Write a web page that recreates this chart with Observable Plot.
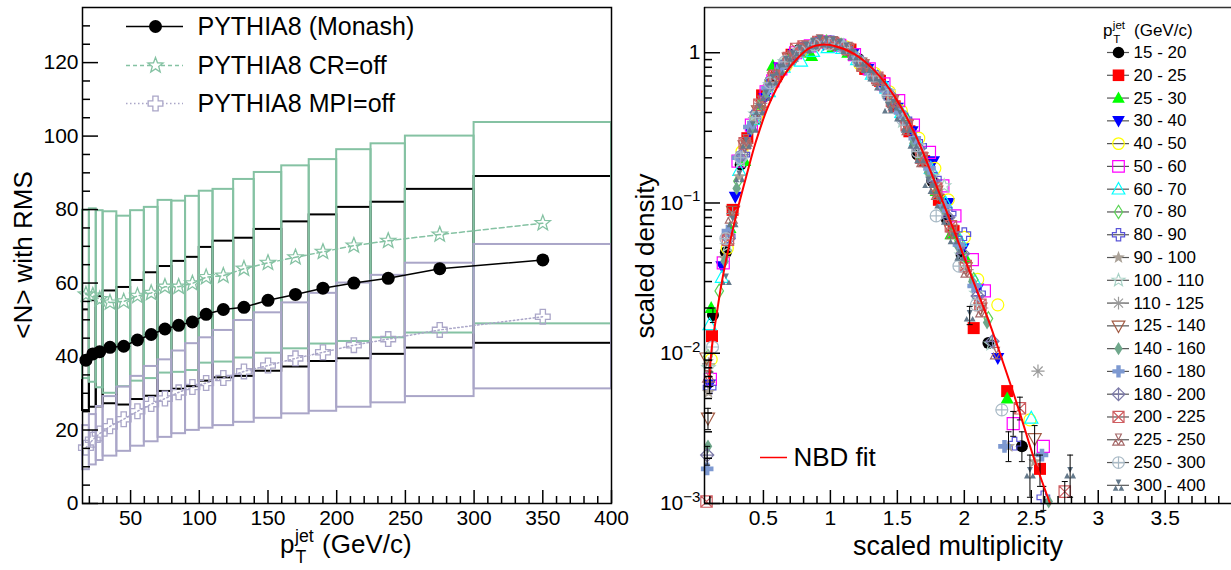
<!DOCTYPE html>
<html><head><meta charset="utf-8">
<script src="https://cdn.jsdelivr.net/npm/d3@7"></script>
<script src="https://cdn.jsdelivr.net/npm/@observablehq/plot@0.6"></script>
<style>
html,body{margin:0;padding:0;background:#fff;overflow:hidden;}
#wrap{position:relative;width:1231px;height:570px;background:#fff;}
</style></head><body><div id="wrap"></div>
<script>
// ---------------- LEFT PANEL DATA ----------------
const binLo = [15,20,25,30,40,50,60,70,80,90,100,110,125,140,160,180,200,225,250,300];
const binHi = [20,25,30,40,50,60,70,80,90,100,110,125,140,160,180,200,225,250,300,400];
const ptCenter = [17.5,22.5,27.5,35,45,55,65,75,85,95,105,117.5,132.5,150,170,190,212.5,237.5,275,350];
const monashMean = [39.0,40.7,41.3,42.5,42.8,44.5,46.0,47.5,48.5,49.4,51.5,52.8,53.4,55.3,56.9,58.6,60.0,61.3,63.9,66.3];
const monashRms  = [13.7,14.5,15.0,15.35,16.0,16.2,16.8,17.0,17.4,17.6,18.2,18.6,18.8,19.3,19.75,19.95,20.6,20.7,21.6,22.7];
const crOffMean  = [56.9,56.6,55.6,54.7,55.0,56.5,57.3,59.0,59.0,59.9,61.6,62.0,63.9,65.5,67.0,68.5,70.2,71.5,73.2,76.3];
const crOffRms   = [22.9,23.6,24.1,24.7,23.2,23.2,23.3,23.5,23.3,23.7,23.4,23.5,24.3,24.6,24.9,25.1,26.1,26.4,26.8,27.4];
const mpiOffMean = [15.2,17.35,19.05,21.0,22.95,25.1,27.05,28.55,30.25,31.7,32.8,34.15,35.95,37.55,39.5,41.15,43.1,44.75,47.25,50.85];
const mpiOffRms  = [6.0,6.85,7.35,8.1,8.75,9.5,10.25,10.55,11.25,11.8,12.3,12.95,13.85,14.35,15.1,16.05,16.9,17.35,18.15,19.65];
const leftLegendLabels = ["PYTHIA8 (Monash)","PYTHIA8 CR=off","PYTHIA8 MPI=off"];
const lYMajor = [0,20,40,60,80,100,120];
const lXMajor = [50,100,150,200,250,300,350,400];

// ---------------- RIGHT PANEL DATA ----------------
const x_15_20 = [0.123,0.22,0.33,0.44,0.55,0.66,0.77,0.88,0.99,1.10,1.21,1.32,1.43,1.54,1.65,1.76,1.87,1.98,2.18,2.43];
const y_15_20 = [0.018,0.047,0.18,0.36,0.64,0.84,1.05,1.12,1.18,1.08,0.91,0.70,0.52,0.37,0.21,0.14,0.078,0.045,0.0117,0.0024];
const x_20_25 = [0.116,0.27,0.38,0.49,0.60,0.71,0.82,0.93,1.04,1.15,1.26,1.37,1.48,1.59,1.70,1.81,1.92,2.07,2.32,2.565];
const y_20_25 = [0.013,0.09,0.27,0.52,0.72,0.97,1.07,1.18,1.12,1.05,0.78,0.65,0.44,0.30,0.19,0.105,0.065,0.0147,0.0056,0.0017];
const x_25_30 = [0.11,0.25,0.36,0.47,0.57,0.69,0.80,0.86,1.02,1.13,1.24,1.35,1.46,1.57,1.68,1.79,1.90,2.01,2.32];
const y_25_30 = [0.020,0.068,0.19,0.45,0.82,0.90,1.00,0.95,1.09,1.00,0.82,0.70,0.50,0.37,0.21,0.12,0.062,0.043,0.005];
const x_30_40 = [0.098,0.19,0.29,0.40,0.51,0.62,0.73,0.84,0.95,1.06,1.17,1.28,1.39,1.50,1.61,1.77,1.88,1.99,2.10,2.25];
const y_30_40 = [0.0062,0.038,0.11,0.30,0.50,0.80,0.98,1.10,1.14,1.15,0.99,0.78,0.60,0.43,0.30,0.19,0.10,0.05,0.027,0.0093];
const x_40_50 = [0.11,0.23,0.34,0.45,0.56,0.67,0.78,0.89,1.00,1.11,1.22,1.33,1.44,1.53,1.66,1.78,1.88,2.00,2.10,2.25,2.49];
const y_40_50 = [0.0091,0.05,0.22,0.38,0.63,0.82,1.02,1.13,1.15,1.10,0.84,0.73,0.55,0.41,0.27,0.17,0.105,0.059,0.031,0.021,0.0036];
const x_50_60 = [0.104,0.20,0.31,0.41,0.52,0.57,0.63,0.74,0.85,0.96,1.07,1.18,1.29,1.40,1.51,1.62,1.74,1.84,1.93,2.06,2.15,2.365,2.59];
const y_50_60 = [0.0067,0.04,0.19,0.33,0.55,0.65,0.78,1.00,1.11,1.18,1.12,0.97,0.78,0.62,0.48,0.33,0.217,0.13,0.082,0.042,0.026,0.0034,0.0024];
const x_60_70 = [0.098,0.19,0.32,0.43,0.54,0.65,0.78,0.87,0.98,1.09,1.20,1.31,1.42,1.53,1.64,1.75,1.86,1.97,2.08,2.50];
const y_60_70 = [0.0155,0.032,0.165,0.36,0.55,0.80,0.88,1.02,1.08,1.07,0.90,0.72,0.58,0.40,0.26,0.17,0.10,0.056,0.03,0.0037];
const x_70_80 = [0.086,0.17,0.31,0.42,0.53,0.64,0.75,0.86,0.97,1.08,1.19,1.30,1.41,1.52,1.63,1.74,1.85,1.96,2.07,2.18];
const y_70_80 = [0.0095,0.026,0.14,0.34,0.57,0.82,1.00,1.12,1.18,1.12,0.93,0.74,0.57,0.41,0.26,0.16,0.095,0.056,0.031,0.017];
const x_80_90 = [0.098,0.24,0.35,0.46,0.57,0.68,0.79,0.90,1.01,1.12,1.23,1.34,1.45,1.56,1.67,1.78,1.89,2.00,2.11,2.375,2.59];
const y_80_90 = [0.0059,0.06,0.21,0.40,0.66,0.86,1.06,1.15,1.17,1.06,0.86,0.69,0.50,0.36,0.24,0.145,0.085,0.062,0.025,0.0025,0.0011];
const x_90_100 = [0.09,0.21,0.32,0.43,0.54,0.65,0.76,0.87,0.98,1.09,1.20,1.31,1.42,1.53,1.64,1.75,1.86,1.97,2.08,2.33,2.525];
const y_90_100 = [0.0055,0.043,0.15,0.36,0.60,0.84,1.02,1.13,1.19,1.10,0.92,0.72,0.56,0.39,0.24,0.15,0.088,0.050,0.028,0.0024,0.0019];
const x_100_110 = [0.09,0.23,0.33,0.44,0.55,0.66,0.77,0.88,0.99,1.10,1.21,1.32,1.43,1.54,1.65,1.76,1.85,1.98,2.09,2.20];
const y_100_110 = [0.008,0.052,0.19,0.39,0.61,0.87,1.03,1.12,1.15,1.11,0.90,0.72,0.55,0.35,0.24,0.15,0.13,0.045,0.025,0.0115];
const x_110_125 = [0.09,0.27,0.37,0.48,0.59,0.70,0.81,0.92,1.03,1.14,1.25,1.36,1.47,1.58,1.69,1.80,1.91,2.02,2.13,2.55];
const y_110_125 = [0.0085,0.085,0.25,0.46,0.72,0.92,1.08,1.16,1.15,1.03,0.82,0.65,0.47,0.31,0.19,0.115,0.064,0.036,0.02,0.0076];
const x_125_140 = [0.075,0.086,0.273,0.36,0.46,0.58,0.69,0.80,0.91,1.02,1.13,1.24,1.35,1.46,1.57,1.68,1.79,1.90,2.01,2.12,2.525];
const y_125_140 = [0.0093,0.0037,0.088,0.24,0.41,0.68,0.92,1.07,1.15,1.14,1.05,0.83,0.66,0.48,0.33,0.20,0.12,0.066,0.037,0.02,0.0027];
const x_140_160 = [0.086,0.21,0.30,0.41,0.52,0.63,0.74,0.85,0.96,1.07,1.18,1.29,1.40,1.51,1.62,1.73,1.84,1.95,2.06,2.17,2.63];
const y_140_160 = [0.0024,0.041,0.125,0.31,0.54,0.79,0.99,1.11,1.17,1.12,0.95,0.76,0.58,0.40,0.25,0.16,0.092,0.052,0.03,0.016,0.00103];
const x_160_180 = [0.08,0.235,0.31,0.395,0.53,0.64,0.75,0.86,0.97,1.08,1.19,1.30,1.41,1.52,1.63,1.74,1.85,1.96,2.07,2.30,2.58];
const y_160_180 = [0.0017,0.065,0.20,0.32,0.58,0.81,0.98,1.10,1.16,1.11,0.92,0.73,0.56,0.40,0.27,0.17,0.095,0.053,0.028,0.0024,0.0021];
const x_180_200 = [0.08,0.24,0.34,0.45,0.56,0.67,0.78,0.89,1.00,1.11,1.22,1.33,1.44,1.55,1.66,1.77,1.88,1.99,2.10,2.21];
const y_180_200 = [0.0021,0.058,0.21,0.40,0.62,0.86,1.04,1.14,1.17,1.08,0.87,0.70,0.53,0.36,0.23,0.14,0.08,0.046,0.024,0.012];
const x_200_225 = [0.075,0.235,0.36,0.47,0.58,0.69,0.745,0.80,0.91,1.02,1.13,1.24,1.35,1.46,1.57,1.68,1.79,1.90,2.01,2.12,2.415,2.75];
const y_200_225 = [0.00103,0.057,0.25,0.45,0.70,0.92,1.06,1.10,1.18,1.16,1.06,0.82,0.68,0.48,0.33,0.20,0.125,0.07,0.038,0.021,0.0043,0.0012];
const x_225_250 = [0.09,0.26,0.37,0.48,0.59,0.70,0.81,0.92,1.03,1.14,1.25,1.36,1.47,1.58,1.69,1.80,1.91,2.02,2.13,2.24];
const y_225_250 = [0.007,0.08,0.26,0.47,0.70,0.94,1.09,1.20,1.17,1.07,0.84,0.66,0.47,0.31,0.19,0.115,0.063,0.035,0.019,0.01];
const x_250_300 = [0.12,0.22,0.33,0.44,0.55,0.66,0.77,0.88,0.99,1.10,1.21,1.32,1.43,1.54,1.65,1.79,1.96,2.09,2.28];
const y_250_300 = [0.011,0.058,0.20,0.37,0.63,0.87,1.02,1.13,1.14,1.08,0.88,0.70,0.52,0.36,0.22,0.082,0.038,0.021,0.0042];
const x_300_400 = [0.22,0.27,0.32,0.37,0.42,0.47,0.52,0.57,0.62,0.67,0.72,0.77,0.82,0.87,0.92,0.97,1.02,1.07,1.12,1.17,1.22,1.27,1.32,1.37,1.43,1.47,1.52,1.57,1.62,1.67,1.73,1.77,1.82,1.87,1.92,1.97,2.04,2.49,2.79];
const y_300_400 = [0.031,0.075,0.15,0.25,0.32,0.42,0.52,0.66,0.77,0.87,0.95,1.03,1.08,1.15,1.20,1.18,1.17,1.13,1.07,0.97,0.88,0.80,0.70,0.61,0.43,0.45,0.38,0.32,0.25,0.20,0.137,0.125,0.10,0.078,0.058,0.045,0.0177,0.0016,0.0016];
const rightLegendLabels = ["15 - 20","20 - 25","25 - 30","30 - 40","40 - 50","50 - 60","60 - 70","70 - 80","80 - 90","90 - 100","100 - 110","110 - 125","125 - 140","140 - 160","160 - 180","180 - 200","200 - 225","225 - 250","250 - 300","300 - 400"];
const errX  = [0.123,0.098,0.104,0.086,0.08,2.04,2.43,2.33,2.365,2.415,2.49,2.525,2.565,2.59,2.75,2.79];
const errLo = [0.016,0.0054,0.006,0.0031,0.0018,0.0155,0.0019,0.0019,0.0028,0.0036,0.0011,0.0021,0.0013,0.0009,0.0010,0.0011];
const errHi = [0.020,0.0070,0.0075,0.0043,0.0024,0.0205,0.0030,0.0030,0.0041,0.0051,0.0021,0.0033,0.0021,0.0013,0.0014,0.0021];
const fitX = [0.095,0.115,0.15,0.19,0.24,0.31,0.38,0.44,0.54,0.66,0.76,0.85,0.93,1.03,1.18,1.33,1.48,1.63,1.78,1.93,2.05,2.18,2.25,2.40,2.52,2.64];
const fitY = [0.0068,0.011,0.018,0.030,0.050,0.093,0.16,0.25,0.45,0.72,0.93,1.08,1.13,1.11,0.98,0.76,0.51,0.29,0.138,0.063,0.033,0.0166,0.011,0.0044,0.002,0.001];
const rXMajor = [0.5,1,1.5,2,2.5,3,3.5];
const rYMajor = [0.001,0.01,0.1,1];

// ---------------- STYLES ----------------
const FONT = '"Liberation Sans", Arial, Helvetica, sans-serif';
const CR_COLOR = "#85c2a3", MPI_COLOR = "#aaa6c8";
const RR = s => Math.sqrt(s / Math.PI);
const SYM = {
  circle: {draw(c, s) { const r = RR(s); c.moveTo(r, 0); c.arc(0, 0, r, 0, 2 * Math.PI); }},
  square: {draw(c, s) { const r = RR(s); c.rect(-r, -r, 2 * r, 2 * r); }},
  triUp: {draw(c, s) { const r = RR(s) * 1.15; c.moveTo(0, -r); c.lineTo(r * 0.95, r * 0.72); c.lineTo(-r * 0.95, r * 0.72); c.closePath(); }},
  triDown: {draw(c, s) { const r = RR(s) * 1.15; c.moveTo(0, r); c.lineTo(r * 0.95, -r * 0.72); c.lineTo(-r * 0.95, -r * 0.72); c.closePath(); }},
  diamond: {draw(c, s) { const r = RR(s) * 1.15; c.moveTo(0, -r); c.lineTo(r * 0.62, 0); c.lineTo(0, r); c.lineTo(-r * 0.62, 0); c.closePath(); }},
  cross: {draw(c, s) { const r = RR(s) * 1.05, w = r * 0.36; c.moveTo(-w, -r); c.lineTo(w, -r); c.lineTo(w, -w); c.lineTo(r, -w); c.lineTo(r, w); c.lineTo(w, w); c.lineTo(w, r); c.lineTo(-w, r); c.lineTo(-w, w); c.lineTo(-r, w); c.lineTo(-r, -w); c.lineTo(-w, -w); c.closePath(); }},
  star: {draw(c, s) { const r = RR(s) * 1.15, ri = r * 0.42; for (let k = 0; k < 10; k++) { const a = -Math.PI / 2 + k * Math.PI / 5, rr = k % 2 ? ri : r; const x = rr * Math.cos(a), y = rr * Math.sin(a); if (k) c.lineTo(x, y); else c.moveTo(x, y); } c.closePath(); }},
  asterisk: {draw(c, s) { const r = RR(s) * 1.1, d = r * Math.SQRT1_2; c.moveTo(-r, 0); c.lineTo(r, 0); c.moveTo(0, -r); c.lineTo(0, r); c.moveTo(-d, -d); c.lineTo(d, d); c.moveTo(-d, d); c.lineTo(d, -d); }},
  diamondCross: {draw(c, s) { const r = RR(s) * 1.1; c.moveTo(0, -r); c.lineTo(r, 0); c.lineTo(0, r); c.lineTo(-r, 0); c.closePath(); c.moveTo(-r, 0); c.lineTo(r, 0); c.moveTo(0, -r); c.lineTo(0, r); }},
  squareX: {draw(c, s) { const r = RR(s) * 0.95; c.rect(-r, -r, 2 * r, 2 * r); c.moveTo(-r, -r); c.lineTo(r, r); c.moveTo(-r, r); c.lineTo(r, -r); }},
  circlePlus: {draw(c, s) { const r = RR(s); c.moveTo(r, 0); c.arc(0, 0, r, 0, 2 * Math.PI); c.moveTo(-r, 0); c.lineTo(r, 0); c.moveTo(0, -r); c.lineTo(0, r); }},
  tri3: {draw(c, s) { const r = RR(s) * 1.1;
    c.moveTo(-0.45 * r, -0.9 * r); c.lineTo(0.45 * r, -0.9 * r); c.lineTo(0, 0); c.closePath();
    c.moveTo(-0.45 * r, 0); c.lineTo(0, 0.85 * r); c.lineTo(-0.9 * r, 0.85 * r); c.closePath();
    c.moveTo(0.45 * r, 0); c.lineTo(0.9 * r, 0.85 * r); c.lineTo(0, 0.85 * r); c.closePath(); }},
  hcap: {draw(c, s) { const r = RR(s); c.moveTo(-r, 0); c.lineTo(r, 0); }}
};
const STY = [
  {sym: "circle", fill: "#000000"}, {sym: "square", fill: "#ff0000"}, {sym: "triUp", fill: "#00ff00"},
  {sym: "triDown", fill: "#0000ff"}, {sym: "circle", stroke: "#ffff00"}, {sym: "square", stroke: "#ff00ff"},
  {sym: "triUp", stroke: "#00ffff"}, {sym: "diamond", stroke: "#59d454"}, {sym: "cross", stroke: "#5954d8"},
  {sym: "star", fill: "#aaa197"}, {sym: "star", stroke: "#a9d2c6"}, {sym: "asterisk", stroke: "#9a9a9a"},
  {sym: "triDown", stroke: "#a35c45"}, {sym: "diamond", fill: "#6fa78b"}, {sym: "cross", fill: "#7d99d1"},
  {sym: "diamondCross", stroke: "#7c7aa8"}, {sym: "squareX", stroke: "#cf5e61"}, {sym: "tri3", stroke: "#a66a6a"},
  {sym: "circlePlus", stroke: "#a9bac6"}, {sym: "tri3", fill: "#64798b"}
];
const SERIES_X = [x_15_20,x_20_25,x_25_30,x_30_40,x_40_50,x_50_60,x_60_70,x_70_80,x_80_90,x_90_100,x_100_110,x_110_125,x_125_140,x_140_160,x_160_180,x_180_200,x_200_225,x_225_250,x_250_300,x_300_400];
const SERIES_Y = [y_15_20,y_20_25,y_25_30,y_30_40,y_40_50,y_50_60,y_60_70,y_70_80,y_80_90,y_90_100,y_100_110,y_110_125,y_125_140,y_140_160,y_160_180,y_180_200,y_200_225,y_225_250,y_250_300,y_300_400];

const wrap = document.getElementById("wrap");
function place(el, left, top) { el.style.position = "absolute"; el.style.left = left + "px"; el.style.top = top + "px"; el.style.maxWidth = "none"; wrap.appendChild(el); }
const baseStyle = {fontFamily: FONT, fontSize: "21px", color: "#000", background: "transparent", overflow: "visible"};

// ---------------- LEFT PLOT ----------------
const L = {w: 620, h: 570, ml: 82, mr: 9, mt: 7, mb: 67};
const lpw = L.w - L.ml - L.mr, lph = L.h - L.mt - L.mb;
const rows = binLo.map((lo, i) => ({lo, hi: binHi[i], pt: ptCenter[i], mon: monashMean[i], monR: monashRms[i], cr: crOffMean[i], crR: crOffRms[i], mpi: mpiOffMean[i], mpiR: mpiOffRms[i]}));
const lYMinor = d3.range(5, 135, 5).filter(v => v % 20 !== 0);
const lXMinor = d3.range(20, 400, 10).filter(v => v % 50 !== 0);
const leftPlot = Plot.plot({
  width: L.w, height: L.h, marginLeft: L.ml, marginRight: L.mr, marginTop: L.mt, marginBottom: L.mb,
  style: baseStyle,
  x: {domain: [15, 400]}, y: {domain: [0, 135]},
  marks: [
    Plot.rect(rows, {x1: "lo", x2: "hi", y1: d => d.mon - d.monR, y2: d => d.mon + d.monR, fill: "none", stroke: "#000", strokeWidth: 2}),
    Plot.rect(rows, {x1: "lo", x2: "hi", y1: d => d.cr - d.crR, y2: d => d.cr + d.crR, fill: "none", stroke: CR_COLOR, strokeWidth: 2}),
    Plot.rect(rows, {x1: "lo", x2: "hi", y1: d => d.mpi - d.mpiR, y2: d => d.mpi + d.mpiR, fill: "none", stroke: MPI_COLOR, strokeWidth: 2}),
    Plot.line(rows, {x: "pt", y: "mpi", stroke: MPI_COLOR, strokeWidth: 1.5, strokeDasharray: "1.5,2.5"}),
    Plot.line(rows, {x: "pt", y: "cr", stroke: CR_COLOR, strokeWidth: 1.5, strokeDasharray: "5,3"}),
    Plot.line(rows, {x: "pt", y: "mon", stroke: "#000", strokeWidth: 1.5}),
    Plot.dot(rows, {x: "pt", y: "mpi", r: 7, symbol: SYM.cross, fill: "none", stroke: MPI_COLOR, strokeWidth: 1.3}),
    Plot.dot(rows, {x: "pt", y: "cr", r: 7, symbol: SYM.star, fill: "none", stroke: CR_COLOR, strokeWidth: 1.3}),
    Plot.dot(rows, {x: "pt", y: "mon", r: 6.5, fill: "#000", stroke: "none"}),
    Plot.tickY(lYMinor, {y: d => d, stroke: "#000", strokeWidth: 1.5, insetRight: lpw - 8}),
    Plot.tickY(lYMajor, {y: d => d, stroke: "#000", strokeWidth: 1.5, insetRight: lpw - 16}),
    Plot.tickX(lXMinor, {x: d => d, stroke: "#000", strokeWidth: 1.5, insetTop: lph - 7}),
    Plot.tickX(lXMajor, {x: d => d, stroke: "#000", strokeWidth: 1.5, insetTop: lph - 13}),
    Plot.axisY(lYMajor, {tickSize: 0, tickPadding: 4, label: null}),
    Plot.axisX(lXMajor, {tickSize: 0, tickPadding: 7, label: null}),
    Plot.frame({stroke: "#000", strokeWidth: 1.5})
  ]
});
place(leftPlot, 0, 0);

// ---------------- RIGHT PLOT ----------------
const Rm = {w: 611, h: 570, ml: 84, mr: 0, mt: 7, mb: 67};
const rpw = Rm.w - Rm.ml - Rm.mr, rph = Rm.h - Rm.mt - Rm.mb;
const rXMinor = d3.range(1, 40).map(v => v / 10).filter(v => Math.abs(v * 2 - Math.round(v * 2)) > 1e-9);
const rYMinor = [0.001, 0.01, 0.1].flatMap(dec => d3.range(2, 10).map(k => k * dec));
const errRows = errX.map((x, i) => ({x, lo: errLo[i], hi: errHi[i]}));
const fitRows = fitX.map((x, i) => ({x, y: fitY[i]}));
const seriesMarks = SERIES_X.map((xs, i) => Plot.dot(xs.map((x, j) => ({x, y: SERIES_Y[i][j]})), {
  x: "x", y: "y", r: 6, symbol: SYM[STY[i].sym], fill: STY[i].fill || "none", stroke: STY[i].stroke || "none", strokeWidth: 1.2
}));
const rightPlot = Plot.plot({
  width: Rm.w, height: Rm.h, marginLeft: Rm.ml, marginRight: Rm.mr, marginTop: Rm.mt, marginBottom: Rm.mb,
  style: baseStyle,
  x: {domain: [0.06, 3.995]}, y: {type: "log", domain: [1e-3, 2]},
  marks: [
    ...seriesMarks,
    Plot.ruleX(errRows, {x: "x", y1: "lo", y2: "hi", stroke: "#000", strokeWidth: 1}),
    Plot.dot(errRows, {x: "x", y: "lo", r: 3, symbol: SYM.hcap, fill: "none", stroke: "#000", strokeWidth: 1}),
    Plot.dot(errRows, {x: "x", y: "hi", r: 3, symbol: SYM.hcap, fill: "none", stroke: "#000", strokeWidth: 1}),
    Plot.line(fitRows, {x: "x", y: "y", stroke: "#ff0000", strokeWidth: 2, curve: "catmull-rom"}),
    Plot.tickY(rYMinor, {y: d => d, stroke: "#000", strokeWidth: 1.5, insetRight: rpw - 8}),
    Plot.tickY(rYMajor, {y: d => d, stroke: "#000", strokeWidth: 1.5, insetRight: rpw - 16}),
    Plot.tickX(rXMinor, {x: d => d, stroke: "#000", strokeWidth: 1.5, insetTop: rph - 7}),
    Plot.tickX(rXMajor, {x: d => d, stroke: "#000", strokeWidth: 1.5, insetTop: rph - 13}),
    Plot.axisY(rYMajor, {tickSize: 0, tickPadding: 4, label: null, tickFormat: d => d === 1 ? "1" : "10^" + Math.round(Math.log10(d))}),
    Plot.axisX(rXMajor, {tickSize: 0, tickPadding: 7, label: null, tickFormat: d => String(d)}),
    Plot.ruleY([2], {stroke: "#333", strokeWidth: 1.5}),
    Plot.ruleY([1e-3], {stroke: "#000", strokeWidth: 1.5}),
    Plot.ruleX([0.06], {stroke: "#000", strokeWidth: 1.5})
  ]
});
d3.select(rightPlot).selectAll('g[aria-label="y-axis tick label"] text').each(function () {
  const t = this.textContent;
  if (t.startsWith("10^")) {
    const e = t.slice(3).replace("-", "\u2212");
    const sel = d3.select(this);
    sel.text(null);
    sel.append("tspan").text("10");
    sel.append("tspan").attr("dy", "-0.55em").attr("font-size", "0.72em").text(e);
  }
});
place(rightPlot, 620, 0);

// ---------------- LEGENDS (overlay) ----------------
const legLY = [26, 65, 103];
const legRY = rightLegendLabels.map((_, i) => 52 + i * 22.78);
const rightLegendMarks = rightLegendLabels.map((lab, i) => Plot.dot([lab], {
  x: 1118, y: legRY[i], r: 5.8, symbol: SYM[STY[i].sym], fill: STY[i].fill || "none", stroke: STY[i].stroke || "none", strokeWidth: 1.2
}));
const overlay = Plot.plot({
  width: 1231, height: 570, margin: 0,
  style: {fontFamily: FONT, fontSize: "17px", color: "#000", background: "transparent"},
  x: {type: "identity", axis: null}, y: {type: "identity", axis: null},
  marks: [
    Plot.ruleY([legLY[0]], {x1: 126, x2: 183, stroke: "#000", strokeWidth: 1.5}),
    Plot.ruleY([legLY[1]], {x1: 126, x2: 183, stroke: CR_COLOR, strokeWidth: 1.5, strokeDasharray: "4,3"}),
    Plot.ruleY([legLY[2]], {x1: 126, x2: 183, stroke: MPI_COLOR, strokeWidth: 1.5, strokeDasharray: "1.5,2.5"}),
    Plot.dot([leftLegendLabels[0]], {x: 155, y: legLY[0], r: 6.5, fill: "#000", stroke: "none"}),
    Plot.dot([leftLegendLabels[1]], {x: 155, y: legLY[1], r: 7, symbol: SYM.star, fill: "white", stroke: CR_COLOR, strokeWidth: 1.3}),
    Plot.dot([leftLegendLabels[2]], {x: 155, y: legLY[2], r: 7, symbol: SYM.cross, fill: "white", stroke: MPI_COLOR, strokeWidth: 1.3}),
    Plot.text(leftLegendLabels, {x: 197, y: (d, i) => legLY[i], text: d => d, textAnchor: "start", fontSize: 25, fill: "#000"}),
    Plot.ruleY(legRY, {x1: 1107, x2: 1129, stroke: "#555", strokeWidth: 1.2}),
    ...rightLegendMarks,
    Plot.text(rightLegendLabels, {x: 1133, y: (d, i) => legRY[i], text: d => d, textAnchor: "start", fontSize: 17, fill: "#000"}),
    Plot.ruleY([457], {x1: 760, x2: 787, stroke: "#ff0000", strokeWidth: 1.5}),
    Plot.text(["NBD fit"], {x: 793, y: 457, text: d => d, textAnchor: "start", fontSize: 26, fill: "#000"})
  ]
});
place(overlay, 0, 0);
overlay.style.pointerEvents = "none";

// ---------------- AXIS TITLES ----------------
const ov = d3.select(overlay);
function txt(x, y, s, fs, anchor, rot) {
  const t = ov.append("text").attr("font-family", FONT).attr("font-size", fs).attr("fill", "#000").attr("text-anchor", anchor || "start");
  if (rot) t.attr("transform", `translate(${x},${y}) rotate(-90)`); else t.attr("x", x).attr("y", y);
  t.text(s);
  return t;
}
function ptTitle(x, base, fs, gap) {
  txt(x, base, "p", fs);
  txt(x + 0.58 * fs, base - 0.42 * fs, "jet", 0.68 * fs);
  txt(x + 0.6 * fs, base + 0.4 * fs, "T", 0.68 * fs);
  txt(x + gap, base, "(GeV/c)", fs);
}
txt(32, 255, "<N> with RMS", 26, "middle", true);
ptTitle(280, 553, 26, 42);
txt(654, 256, "scaled density", 26, "middle", true);
txt(958, 555, "scaled multiplicity", 27, "middle");
ptTitle(1103, 36, 17, 31);
</script></body></html>
